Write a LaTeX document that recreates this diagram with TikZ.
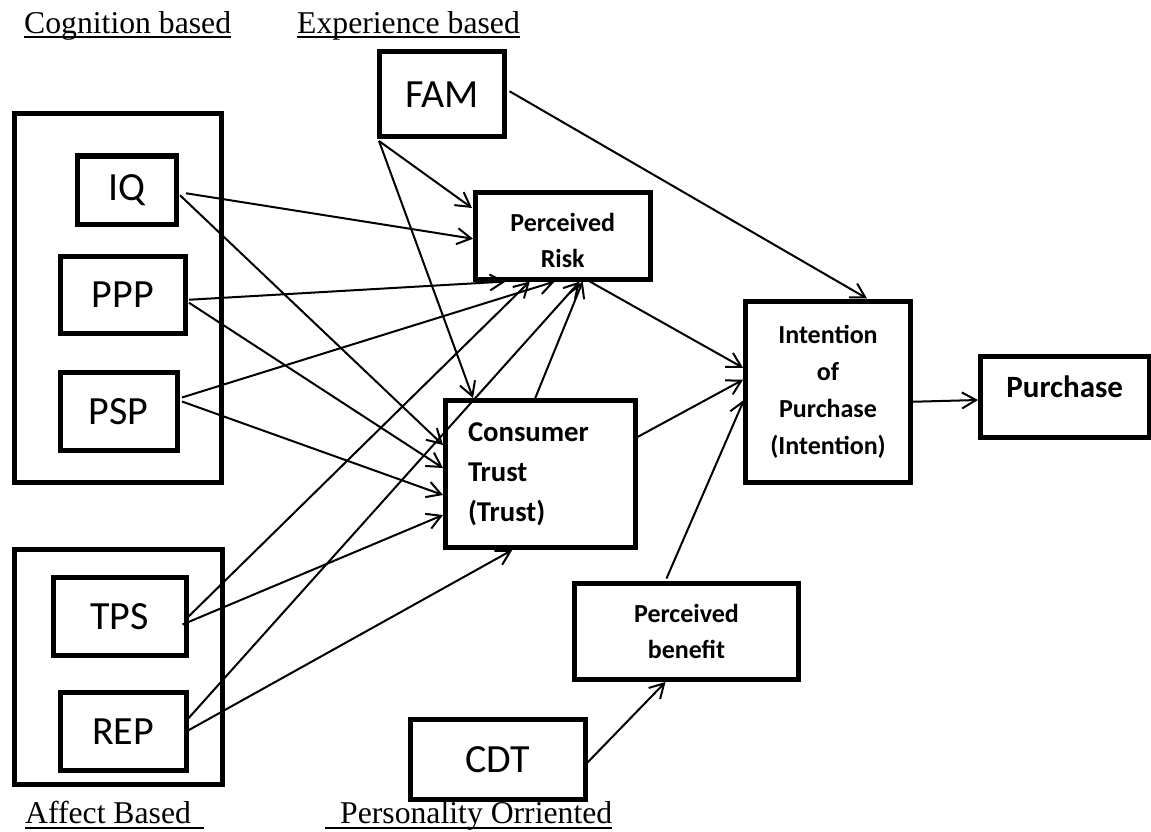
\documentclass[tikz,border=0pt]{standalone}
\usepackage{fontspec}
\setmainfont{Liberation Serif}
\newfontfamily\carl{Carlito}
\usetikzlibrary{arrows.meta}
\begin{document}
\begin{tikzpicture}[x=1pt,y=-1pt,
  grp/.style={draw, line width=5pt, inner sep=0pt},
  box/.style={draw, line width=5pt, inner sep=0pt, font=\carl\fontsize{40}{48}\selectfont},
  bbox/.style={draw, line width=5pt, inner sep=0pt, align=center},
  conn/.style={line width=2pt, -{Straight Barb[length=14pt,width=16pt]}},
  lbl/.style={font=\fontsize{31.7}{38}\selectfont, inner sep=0pt, anchor=base west},
  uline/.style={line width=2pt}]
\useasboundingbox (0,0) rectangle (1151,832);

% group frames
\node[grp, minimum width=206.5pt, minimum height=368pt] (cog) at (117.75,298) {};
\node[grp, minimum width=207.5pt, minimum height=234.5pt] (aff) at (118.25,666.75) {};

% small boxes
\node[box, minimum width=99pt, minimum height=68.5pt] (IQ) at (127,190.25) {IQ};
\node[box, minimum width=125.5pt, minimum height=77.5pt] (PPP) at (122.75,294.75) {PPP};
\node[box, minimum width=117.5pt, minimum height=78pt] (PSP) at (118.75,411.5) {PSP};
\node[box, minimum width=133pt, minimum height=78pt] (TPS) at (119.5,616.5) {TPS};
\node[box, minimum width=126pt, minimum height=77.5pt] (REP) at (123,731.25) {REP};
\node[box, minimum width=124.5pt, minimum height=84.5pt] (FAM) at (441.75,94.25) {FAM};
\node[box, minimum width=174.5pt, minimum height=80pt] (CDT) at (497.75,759.5) {CDT};

% bold boxes
\node[bbox, minimum width=174.5pt, minimum height=86.5pt,
      font=\carl\bfseries\fontsize{26}{36}\selectfont] (PR) at (562.75,235.75) {\rule{0pt}{28pt}Perceived\\Risk};
\node[bbox, minimum width=189.5pt, minimum height=147pt, align=left,
      text width=144.5pt, inner xsep=22.5pt,
      font=\carl\bfseries\fontsize{28.7}{40}\selectfont] (CT) at (540.25,474) {Consumer\\Trust\\(Trust)};
\node[bbox, minimum width=165pt, minimum height=181.5pt,
      font=\carl\bfseries\fontsize{26}{37}\selectfont] (INT) at (828,391.75) {Intention\\of\\Purchase\\(Intention)};
\node[bbox, minimum width=168.5pt, minimum height=81pt,
      font=\carl\bfseries\fontsize{31}{38}\selectfont] (PUR) at (1064.75,396.5) {\raisebox{19pt}{Purchase}};
\node[bbox, minimum width=224pt, minimum height=96.5pt,
      font=\carl\bfseries\fontsize{26}{36}\selectfont] (PB) at (686.5,631.25) {Perceived\\benefit};

% group labels
\node[lbl] (cogl) at (24,34) {Cognition based};
\node[lbl] (expl) at (297,34) {Experience based};
\node[lbl] (affl) at (25,823) {Affect Based\kern13pt};
\node[lbl] (perl) at (325,823) {\kern15pt Personality Orriented};
\draw[uline] ([yshift=-3.5pt]cogl.base west) -- ([yshift=-3.5pt]cogl.base east);
\draw[uline] ([yshift=-3.5pt]expl.base west) -- ([yshift=-3.5pt]expl.base east);
\draw[uline] ([yshift=-4.5pt]affl.base west) -- ([yshift=-4.5pt]affl.base east);
\draw[uline] ([yshift=-4.5pt]perl.base west) -- ([yshift=-4.5pt]perl.base east);

% connectors
\draw[conn] ([shift={(2,2)}]FAM.south west) -- ([shift={(-1,18)}]PR.north west);
\draw[conn] ([shift={(2,2)}]FAM.south west) -- ([shift={(30,0)}]CT.north west);
\draw[conn] ([shift={(3,-3)}]FAM.east) -- ([shift={(39,0)}]INT.north);
\draw[conn] ([shift={(7,3)}]IQ.east) -- ([shift={(0,3)}]PR.west);
\draw[conn] ([shift={(1,5)}]IQ.east) -- ([shift={(0,-29)}]CT.west);
\draw[conn] ([shift={(1,5)}]PPP.east) -- ([shift={(-57,0)}]PR.south);
\draw[conn] ([shift={(1,8)}]PPP.east) -- ([shift={(0,-6)}]CT.west);
\draw[conn] ([shift={(2,-14)}]PSP.east) -- ([shift={(-8,0)}]PR.south);
\draw[conn] ([shift={(2,-10)}]PSP.east) -- ([shift={(0,21)}]CT.west);
\draw[conn] ([shift={(-3,3)}]TPS.east) -- ([shift={(-33,0)}]PR.south);
\draw[conn] ([shift={(-6,8)}]TPS.east) -- ([shift={(0,41)}]CT.west);
\draw[conn] ([shift={(0,-13)}]REP.east) -- ([shift={(17,0)}]PR.south);
\draw[conn] ([shift={(0,-1)}]REP.east) -- ([shift={(-28,0)}]CT.south);
\draw[conn] ([shift={(-5,0)}]CT.north) -- ([shift={(20,0)}]PR.south);
\draw[conn] ([shift={(27,0)}]PR.south) -- ([shift={(0,-24)}]INT.west);
\draw[conn] ([shift={(0,-37)}]CT.east) -- ([shift={(0,-12)}]INT.west);
\draw[conn] ([shift={(-20,-2)}]PB.north) -- ([shift={(1,8)}]INT.west);
\draw[conn] ([shift={(0,10)}]INT.east) -- ([shift={(0,3.5)}]PUR.west);
\draw[conn] ([shift={(0,3)}]CDT.east) -- ([shift={(-21,0)}]PB.south);
\end{tikzpicture}
\end{document}
